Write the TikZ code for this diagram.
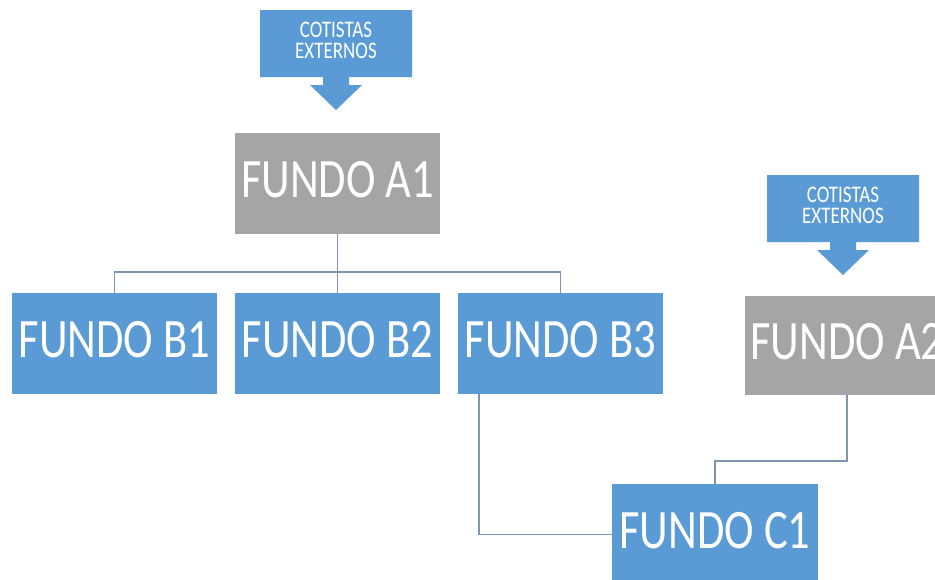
\documentclass[tikz,border=0pt]{standalone}
\usepackage{fontspec}
\setmainfont{Carlito}
\usepackage{graphicx}
\definecolor{fundoblue}{RGB}{91,155,213}
\definecolor{fundogray}{RGB}{165,165,165}
\definecolor{linkcol}{RGB}{126,148,176}
\newcommand{\tall}[1]{\scalebox{1}[1.25]{#1}}

\begin{document}
\begin{tikzpicture}[
		x=1pt, y=-1pt,
		every node/.style={inner sep=0pt, text=white},
		fundo/.style={rectangle, minimum width=205pt, minimum height=101pt, text depth=9pt, font=\fontsize{44.5}{50}\selectfont},
		fundoB/.style={fundo, fill=fundoblue},
		fundoA/.style={fundo, fill=fundogray},
		cot/.style={font=\fontsize{19}{16}\selectfont},
		link/.style={draw=linkcol, line width=1.4pt}
	]
  \useasboundingbox (0,0) rectangle (935,579);
  \clip (0,0) rectangle (935,579);
  \fill[white] (0,0) rectangle (935,579);
  \foreach \cx/\cy in {336/10, 843/175}
    \fill[fundoblue, shift={(\cx,\cy)}] (-76,0) -- (76,0) -- (76,67) -- (13,67) -- (13,75) -- (26,75) -- (0,100) -- (-26,75) -- (-13,75) -- (-13,67) -- (-76,67) -- cycle;
  \node (cot_1) [cot] at (336,43.5) {\tall{\begin{tabular}{@{}c@{}}COTISTAS\\EXTERNOS\end{tabular}}};
  \node (cot_2) [cot] at (843,208.5) {\tall{\begin{tabular}{@{}c@{}}COTISTAS\\EXTERNOS\end{tabular}}};
  \node (a1) [fundoA] at (337.5,183.5) {\tall{FUNDO A1}};
  \node (b1) [fundoB] at (114.5,343.5) {\tall{FUNDO B1}};
  \node (b2) [fundoB] at (337.5,343.5) {\tall{FUNDO B2}};
  \node (b3) [fundoB] at (560.5,343.5) {\tall{FUNDO B3}};
  \node (a2) [fundoA, minimum height=99pt] at (847,345.5) {\tall{FUNDO A2}};
  \node (c1) [fundoB, minimum width=206pt] at (715,534.5) {\tall{FUNDO C1}};
  \coordinate (bus) at (337.5,272);
  \coordinate (a2_turn) at (847,461);
  \draw[link] (a1.south) -- (bus);
  \foreach \b in {b1,b2,b3}
    \draw[link] (bus) -| (\b.north);
  \draw[link] ([xshift=21pt]b3.south west) |- (c1.west);
  \draw[link] (a2.south) -- (a2_turn) -| (c1.north);
\end{tikzpicture}
\end{document}
